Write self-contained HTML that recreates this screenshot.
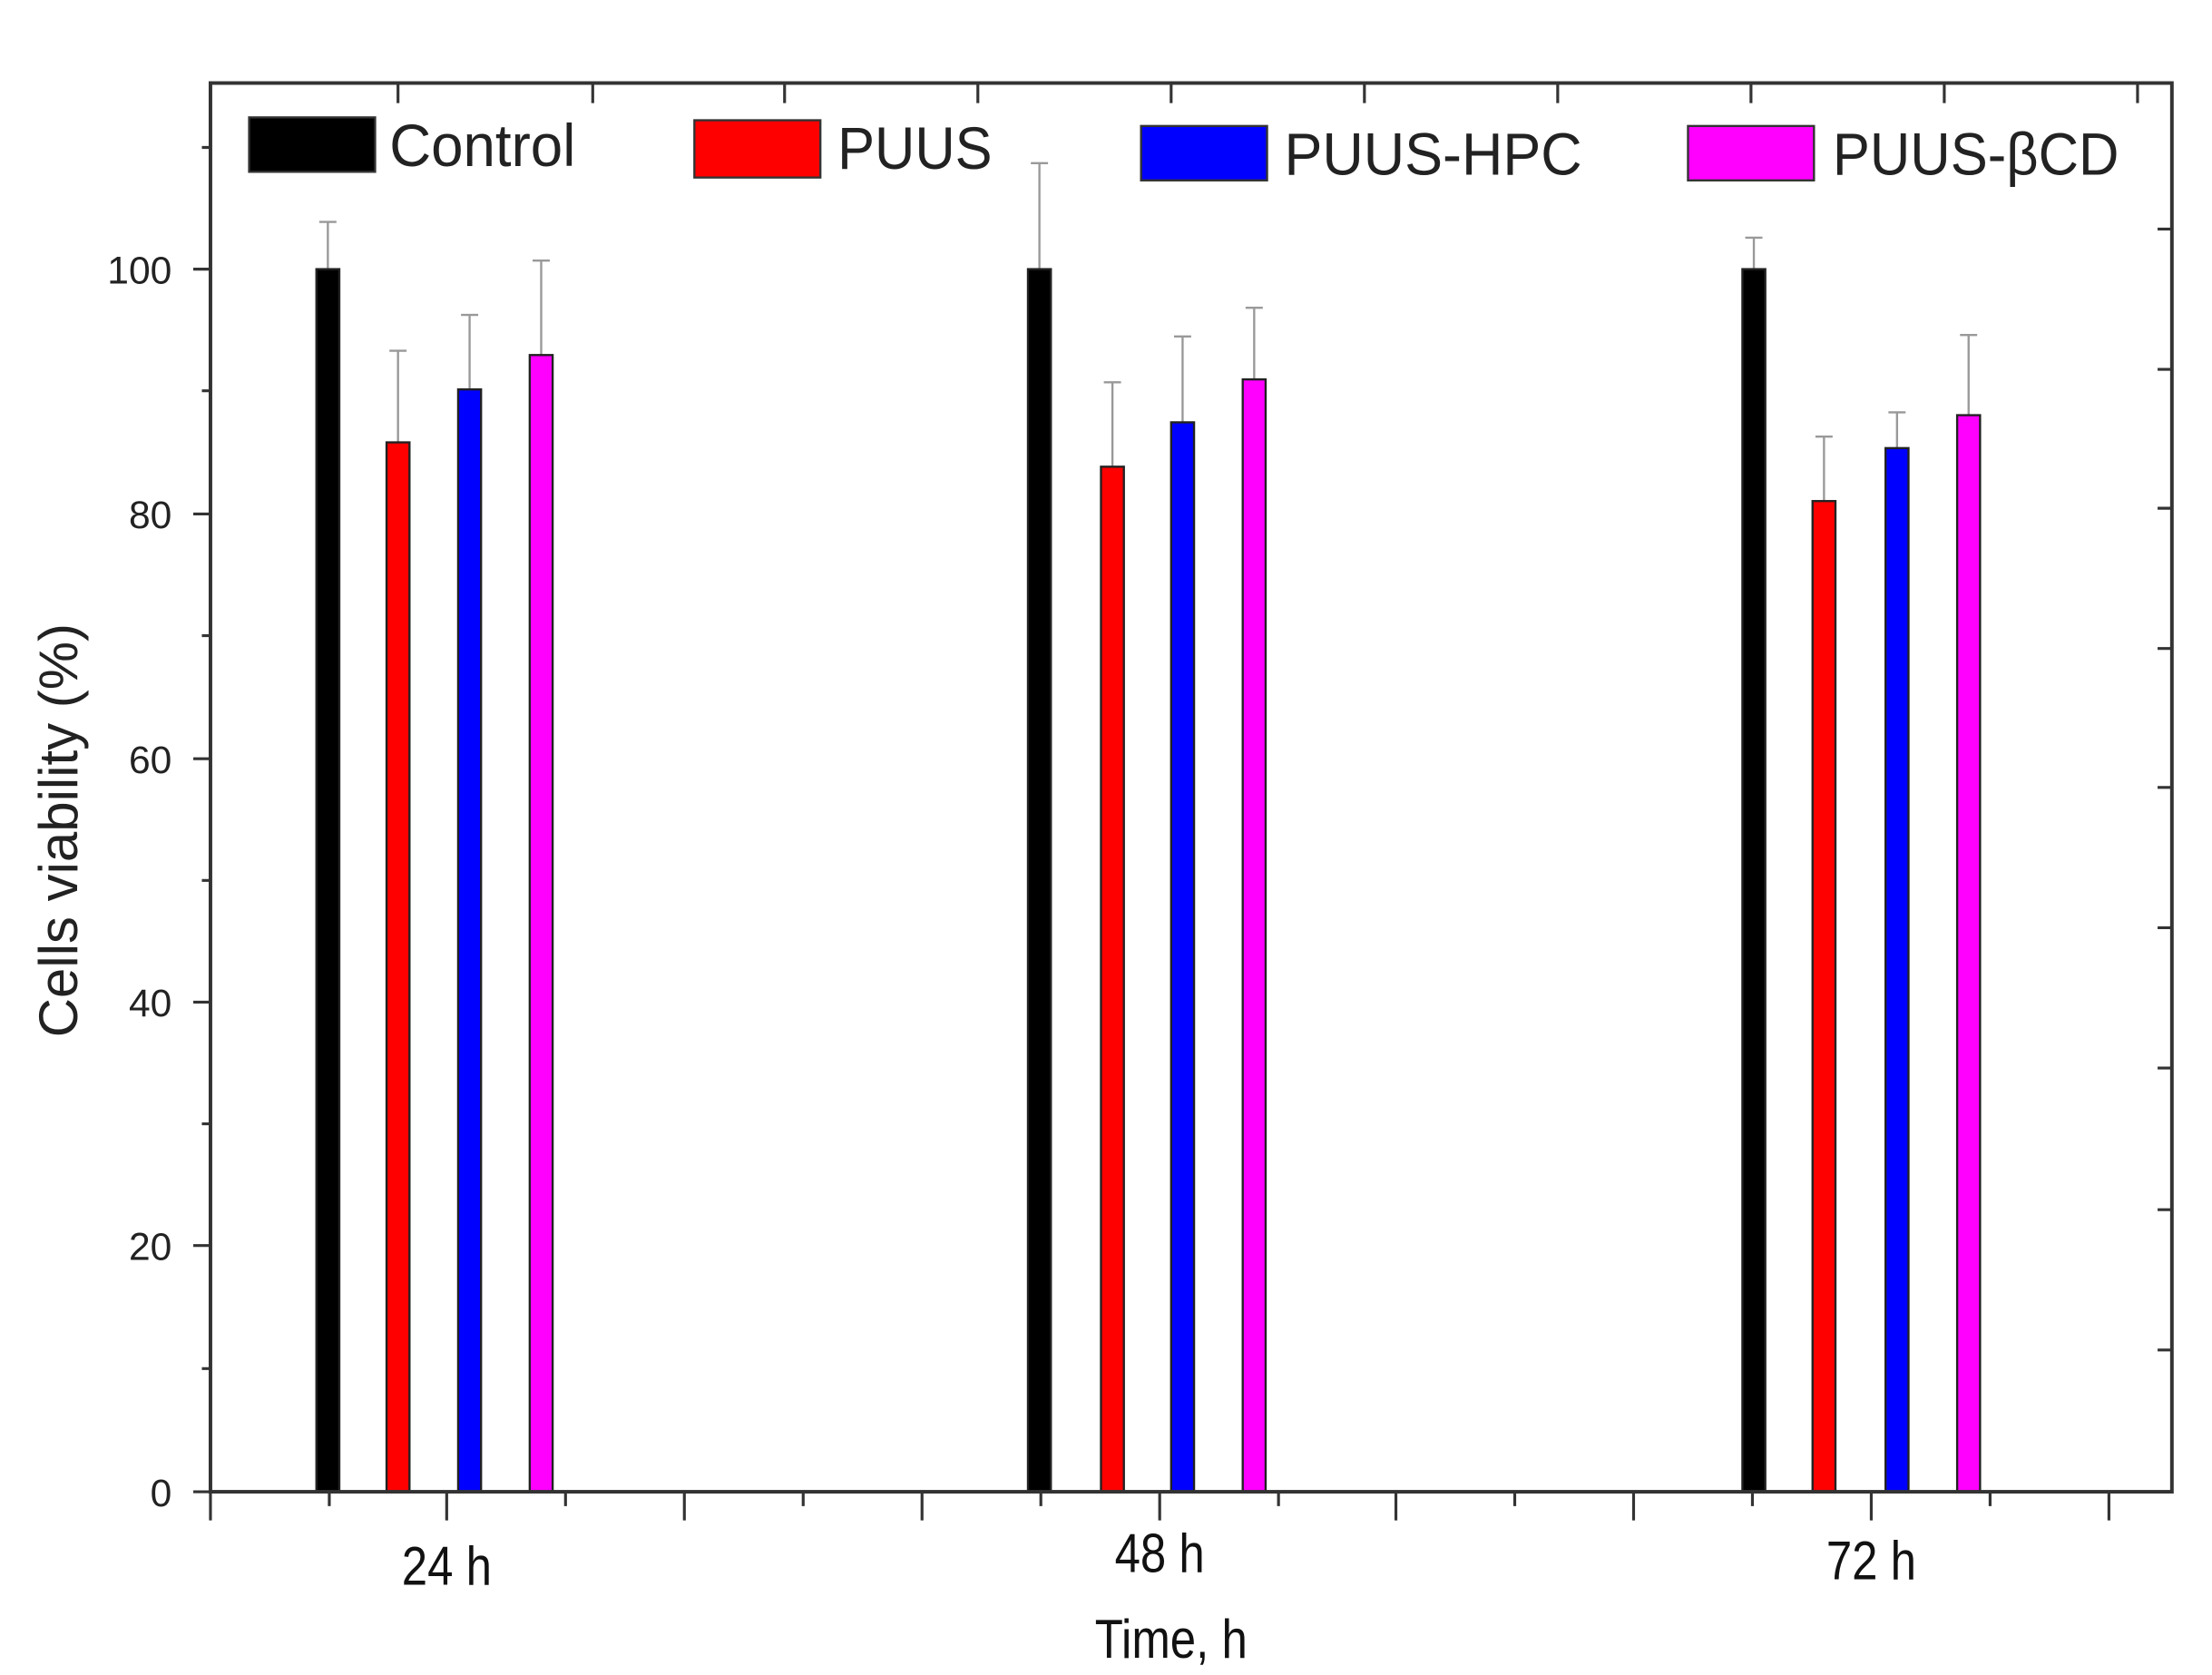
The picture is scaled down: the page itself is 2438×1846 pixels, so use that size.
<!DOCTYPE html>
<html><head><meta charset="utf-8"><style>html,body{margin:0;padding:0;background:#fff}svg{display:block}</style></head>
<body>
<svg width="2438" height="1846" viewBox="0 0 1545 1170" preserveAspectRatio="none" xmlns="http://www.w3.org/2000/svg" font-family="Liberation Sans, sans-serif">
<rect width="1545" height="1170" fill="#fff"/>
<!-- error bars -->
<g stroke="#999" stroke-width="1.5" fill="none">
<path d="M229 188V155M223 155H235 M278 309V245M272 245H284 M328 272V220M322 220H334 M378 248V182M372 182H384"/>
<path d="M726 188V114M720 114H732 M777 326V267M771 267H783 M826 295V235M820 235H832 M876 265V215M870 215H882"/>
<path d="M1225 188V166M1219 166H1231 M1274 350V305M1268 305H1280 M1325 313V288M1319 288H1331 M1375 290V234M1369 234H1381"/>
</g>
<!-- bars -->
<g stroke="#222" stroke-width="1.5">
<rect x="221" y="188" width="16" height="854" fill="#000"/>
<rect x="270" y="309" width="16" height="733" fill="#f00"/>
<rect x="320" y="272" width="16" height="770" fill="#00f"/>
<rect x="370" y="248" width="16" height="794" fill="#f0f"/>
<rect x="718" y="188" width="16" height="854" fill="#000"/>
<rect x="769" y="326" width="16" height="716" fill="#f00"/>
<rect x="818" y="295" width="16" height="747" fill="#00f"/>
<rect x="868" y="265" width="16" height="777" fill="#f0f"/>
<rect x="1217" y="188" width="16" height="854" fill="#000"/>
<rect x="1266" y="350" width="16" height="692" fill="#f00"/>
<rect x="1317" y="313" width="16" height="729" fill="#00f"/>
<rect x="1367" y="290" width="16" height="752" fill="#f0f"/>
</g>
<!-- frame -->
<rect x="147" y="58" width="1370" height="984" fill="none" stroke="#333" stroke-width="2.5"/>
<g stroke="#333" stroke-width="2">
<!-- left ticks -->
<path d="M135 1042H147 M135 870H147 M135 700H147 M135 530H147 M135 359H147 M135 188H147"/>
<path d="M141 956H147 M141 785H147 M141 615H147 M141 444H147 M141 273H147 M141 103H147"/>
<!-- bottom ticks -->
<path d="M147 1042V1062 M312 1042V1062 M478 1042V1062 M644 1042V1062 M810 1042V1062 M975 1042V1062 M1141 1042V1062 M1307 1042V1062 M1473 1042V1062"/>
<path d="M230 1042V1052 M395 1042V1052 M561 1042V1052 M727 1042V1052 M893 1042V1052 M1058 1042V1052 M1224 1042V1052 M1390 1042V1052"/>
<!-- top ticks -->
<path d="M278 58V72 M414 58V72 M548 58V72 M683 58V72 M818 58V72 M953 58V72 M1088 58V72 M1223 58V72 M1358 58V72 M1493 58V72"/>
<!-- right ticks -->
<path d="M1507 160H1517 M1507 258H1517 M1507 355H1517 M1507 453H1517 M1507 550H1517 M1507 648H1517 M1507 746H1517 M1507 845H1517 M1507 943H1517"/>
</g>
<!-- y labels -->
<g font-size="27" fill="#222" text-anchor="end">
<text x="120" y="1052">0</text>
<text x="120" y="880">20</text>
<text x="120" y="710">40</text>
<text x="120" y="540">60</text>
<text x="120" y="369">80</text>
<text x="120" y="198">100</text>
</g>
<text transform="translate(54,580) rotate(-90)" font-size="38" fill="#222" text-anchor="middle">Cells viability (%)</text>
<!-- x labels -->
<g font-size="38" fill="#111" text-anchor="middle">
<text x="312" y="1107" transform="translate(312 0) scale(0.85 1) translate(-312 0)">24 h</text>
<text x="810" y="1098" transform="translate(810 0) scale(0.85 1) translate(-810 0)">48 h</text>
<text x="1307" y="1103" transform="translate(1307 0) scale(0.85 1) translate(-1307 0)">72 h</text>
<text x="818" y="1158" transform="translate(818 0) scale(0.85 1) translate(-818 0)">Time, h</text>
</g>
<!-- legend -->
<g stroke="#333" stroke-width="1.5">
<rect x="174" y="82" width="88" height="38" fill="#000"/>
<rect x="485" y="84" width="88" height="40" fill="#f00"/>
<rect x="797" y="88" width="88" height="38" fill="#00f"/>
<rect x="1179" y="88" width="88" height="38" fill="#f0f"/>
</g>
<g font-size="42" fill="#222">
<text x="272" y="116" textLength="130" lengthAdjust="spacingAndGlyphs">Control</text>
<text x="585" y="118" textLength="108" lengthAdjust="spacingAndGlyphs">PUUS</text>
<text x="897" y="122" textLength="208" lengthAdjust="spacingAndGlyphs">PUUS-HPC</text>
<text x="1280" y="122" textLength="200" lengthAdjust="spacingAndGlyphs">PUUS-βCD</text>
</g>
</svg>
</body></html>
